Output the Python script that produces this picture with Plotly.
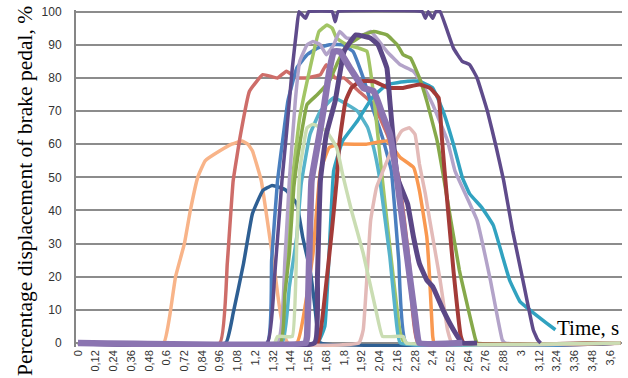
import plotly.graph_objects as go

# ---------------- data (time in s, value in %) ----------------
tick_vals = [0, 0.12, 0.24, 0.36, 0.48, 0.6, 0.72, 0.84, 0.96, 1.08, 1.2, 1.32, 1.44,
             1.56, 1.68, 1.8, 1.92, 2.04, 2.16, 2.28, 2.4, 2.52, 2.64, 2.76, 2.88, 3.0,
             3.12, 3.24, 3.36, 3.48, 3.6]
tick_text = ["0", "0,12", "0,24", "0,36", "0,48", "0,6", "0,72", "0,84", "0,96", "1,08",
             "1,2", "1,32", "1,44", "1,56", "1,68", "1,8", "1,92", "2,04", "2,16", "2,28",
             "2,4", "2,52", "2,64", "2,76", "2,88", "3", "3,12", "3,24", "3,36", "3,48", "3,6"]
y_ticks = [0, 10, 20, 30, 40, 50, 60, 70, 80, 90, 100]

peach_t = [0, 0.58, 0.62, 0.66, 0.72, 0.76, 0.81, 0.86, 0.96, 1.04, 1.11, 1.15, 1.18, 1.24, 1.33, 1.42, 3.67]
peach_v = [0, 0, 8, 20, 30, 40, 50, 55, 58, 60, 61, 60, 58, 49, 22, 0, 0]

rose_t = [0, 0.96, 1.01, 1.05, 1.10, 1.16, 1.25, 1.35, 1.41, 1.48, 1.55, 1.64, 1.68, 1.74, 1.80, 1.90, 2.00, 2.10, 2.17, 2.24, 2.30, 3.67]
rose_v = [0, 0, 24, 49, 63, 76, 81, 80, 82, 80, 80, 81, 84, 80, 80, 76, 72, 62, 50, 25, 0, 0]

dblue_t = [0, 1.00, 1.05, 1.12, 1.18, 1.25, 1.31, 1.36, 1.41, 1.48, 1.52, 1.57, 1.60, 1.62, 1.64, 3.67]
dblue_v = [0, 0, 9, 24, 39, 46, 47.5, 47, 46, 42, 32, 22, 12, 4, 0, 0]

blue_t = [0, 1.28, 1.31, 1.35, 1.39, 1.42, 1.48, 1.55, 1.62, 1.70, 1.79, 1.86, 1.93, 2.00, 2.06, 2.12, 2.17, 2.22, 3.67]
blue_v = [0, 0, 25, 49, 63, 73, 83, 87, 89, 90, 90, 88, 80, 70, 62, 52, 25, 0, 0]

lgreen_t = [0, 1.36, 1.40, 1.45, 1.50, 1.57, 1.63, 1.685, 1.72, 1.75, 1.82, 1.90, 1.955, 2.00, 2.06, 2.12, 2.18, 2.21, 3.67]
lgreen_v = [0, 0, 20, 49, 68, 83, 94, 96, 95, 92, 90, 89, 88, 75, 49, 25, 3, 0, 0]

lav_t = [0, 1.35, 1.40, 1.43, 1.47, 1.50, 1.55, 1.59, 1.64, 1.68, 1.73, 1.77, 1.82, 1.89, 1.98, 2.09, 2.18, 2.27, 2.33, 2.40, 2.50, 2.55, 2.70, 2.79, 2.87, 2.89, 3.67]
lav_v = [0, 0, 25, 49, 73, 85, 90, 91, 90, 87, 90, 94, 92, 92, 94, 88, 84, 82, 78, 72, 61, 52, 37, 19, 1, 0, 0]

cyan_t = [0, 1.38, 1.43, 1.48, 1.51, 1.57, 1.64, 1.73, 1.82, 1.89, 1.96, 2.00, 2.04, 2.11, 2.15, 2.18, 3.67]
cyan_v = [0, 0, 17, 32, 48, 63, 70, 74, 72, 70, 65, 59, 50, 26, 8, 0, 0]

orange_t = [0, 1.48, 1.54, 1.59, 1.64, 1.70, 1.77, 1.95, 2.09, 2.18, 2.27, 2.31, 2.36, 2.38, 2.40, 2.41, 3.67]
orange_v = [0, 0, 12, 27, 52, 59, 60, 60, 61, 56, 53, 46, 32, 19, 2, 0, 0]

teal_t = [0, 1.62, 1.67, 1.73, 1.79, 1.89, 1.99, 2.09, 2.23, 2.31, 2.40, 2.47, 2.54, 2.60, 2.65, 2.73, 2.81, 2.87, 2.92, 2.99, 3.07, 3.17, 3.23]
teal_v = [0, 0, 5, 52, 61, 67, 74, 78, 79, 79, 77, 70, 60, 50, 45, 41, 35.5, 26.5, 19, 12.5, 9.5, 6, 4]

olive_t = [0, 1.37, 1.40, 1.43, 1.46, 1.50, 1.55, 1.62, 1.70, 1.76, 1.82, 1.86, 1.93, 2.00, 2.09, 2.16, 2.20, 2.25, 2.31, 2.36, 2.43, 2.47, 2.58, 2.69, 2.70, 3.67]
olive_v = [0, 0, 15, 27, 47, 60, 72, 75, 79, 85, 90, 91, 93, 94, 93, 90, 87, 86, 80, 73, 61, 51, 22, 1, 0, 0]

dred_t = [0, 1.62, 1.66, 1.72, 1.75, 1.77, 1.81, 1.85, 1.91, 2.00, 2.10, 2.20, 2.31, 2.38, 2.44, 2.46, 2.48, 2.54, 2.59, 2.61, 3.67]
dred_v = [0, 0, 10, 35, 49, 61, 73, 77, 79, 79, 77, 77, 78, 77, 74, 63, 52, 22, 2, 0, 0]

pink_t = [0, 1.90, 1.93, 1.98, 2.02, 2.13, 2.19, 2.24, 2.28, 2.31, 2.35, 2.38, 2.45, 2.50, 2.53, 3.67]
pink_v = [0, 0, 4, 37, 47, 59, 64, 65, 63, 54, 45, 37, 19, 4, 0, 0]

pgreen_t = [0, 1.33, 1.35, 1.45, 1.48, 1.50, 1.55, 1.59, 1.68, 1.75, 1.79, 1.85, 1.93, 2.02, 2.06, 2.20, 2.22, 3.67]
pgreen_v = [0, 0, 2, 2, 30, 52, 65, 66, 64, 59, 51, 40, 27, 9, 2, 2, 0, 0]

dpx_t = [0, 1.60, 1.62, 1.64, 1.68, 1.74, 1.80, 1.88, 1.98, 2.03, 2.09, 2.11, 2.16, 2.23, 2.27, 2.31, 2.36, 2.40, 2.47, 2.54, 2.60, 2.70]
dpx_v = [0, 0, 20, 49, 63, 73, 88, 93, 92, 90, 83, 73, 50, 42, 32, 24, 19, 17, 10, 4, 0, 0]

dp100_t = [0, 1.28, 1.33, 1.38, 1.41, 1.45, 1.48, 1.495, 1.54, 1.56, 1.72, 1.74, 1.76, 2.33, 2.35, 2.37, 2.40, 2.42, 2.45, 2.54, 2.60, 2.65, 2.70, 2.77, 2.83, 2.88, 2.94, 3.01, 3.08, 3.11, 3.13]
dp100_v = [0, 0, 20, 49, 63, 83, 95, 100, 98, 100, 100, 97, 100, 100, 98, 100, 98, 100, 100, 89, 85, 84, 80, 70, 59, 49, 34, 19, 4, 1, 0]

mpx_t = [0, 1.54, 1.55, 1.58, 1.63, 1.66, 1.70, 1.73, 1.77, 1.84, 1.93, 2.00, 2.06, 2.11, 2.16, 2.23, 2.28, 2.31, 2.60]
mpx_v = [0, 0, 2, 49, 62, 70, 82, 88, 88, 83, 77, 76, 69, 63, 49, 25, 8, 0, 0]

# ---------------- styles ----------------
series = [
    (peach_t, peach_v, "#F8B489", 3.5),
    (rose_t, rose_v, "#CE6D69", 3.5),
    (dblue_t, dblue_v, "#2E5F93", 3.5),
    (blue_t, blue_v, "#4A7FBF", 3.5),
    (lgreen_t, lgreen_v, "#A2C565", 3.5),
    (lav_t, lav_v, "#B3A3C9", 3.5),
    (cyan_t, cyan_v, "#56B3CA", 3.5),
    (orange_t, orange_v, "#F99850", 3.5),
    (teal_t, teal_v, "#31A2C0", 3.5),
    (olive_t, olive_v, "#86A94A", 3.5),
    (dred_t, dred_v, "#A33B38", 4),
    (pink_t, pink_v, "#E3BAB8", 3.5),
    (pgreen_t, pgreen_v, "#CADDB3", 3.5),
    (dpx_t, dpx_v, "#5B4786", 5),
    (dp100_t, dp100_v, "#5F4B8B", 3.5),
    (mpx_t, mpx_v, "#8B74B1", 6.5),
]

fig = go.Figure()
for t, v, c, w in series:
    fig.add_trace(go.Scatter(x=t, y=v, mode="lines",
                             line=dict(color=c, width=w, shape="spline", smoothing=0.3),
                             showlegend=False, hoverinfo="skip"))

fig.update_layout(
    width=628, height=378,
    margin=dict(l=76, r=6, t=10, b=31, autoexpand=False),
    paper_bgcolor="white", plot_bgcolor="white",
    font=dict(family="Liberation Sans", size=11, color="#333333"),
    xaxis=dict(range=[-0.0135, 3.6806], tickmode="array", tickvals=tick_vals,
               ticktext=tick_text, tickangle=-90, showgrid=False, zeroline=False,
               showline=False, ticks="", tickfont=dict(size=11, color="#333333"),
               automargin=False),
    yaxis=dict(range=[-1.21, 100.51], tickmode="array", tickvals=y_ticks,
               showgrid=True, gridcolor="#8C8C8C", gridwidth=1.6,
               zeroline=True, zerolinecolor="#8C8C8C", zerolinewidth=1.6,
               showline=True, linecolor="#868686", linewidth=2, ticks="",
               ticklabelstandoff=10, tickfont=dict(size=12, color="#333333"),
               automargin=False),
    annotations=[
        dict(text="Percentage displacement of brake pedal, %", xref="paper", yref="paper",
             x=-0.0934, y=0.463, xanchor="center", yanchor="middle", textangle=-90,
             showarrow=False, font=dict(family="Liberation Serif", size=21.5, color="black")),
        dict(text="Time, s", xref="paper", yref="paper", x=0.9377, y=0.0564,
             xanchor="center", yanchor="middle", showarrow=False,
             font=dict(family="Liberation Serif", size=21, color="black")),
    ],
)

fig.write_html("out.html")
